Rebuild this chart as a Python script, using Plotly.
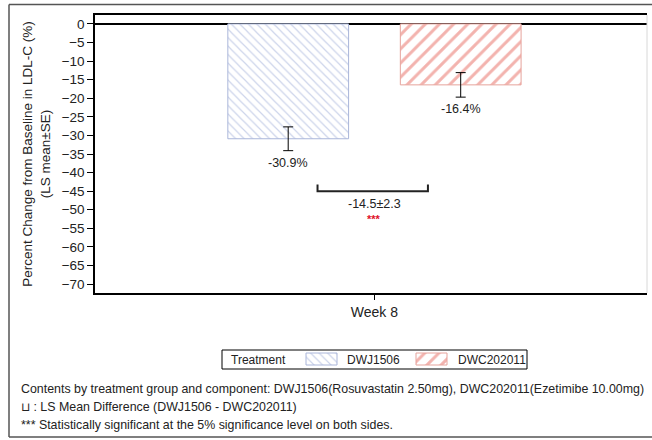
import plotly.graph_objects as go

# LS mean percent change from baseline in LDL-C at Week 8
treatments = ["DWJ1506", "DWC202011"]
ls_means = [-30.9, -16.4]
std_errors = [3.2, 3.3]
bar_labels = ["-30.9%", "-16.4%"]
visit_label = "Week 8"
diff_label = "-14.5±2.3"
diff_level = -45
y_ticks = [0, -5, -10, -15, -20, -25, -30, -35, -40, -45, -50, -55, -60, -65, -70]
legend_title = "Treatment"

footnotes = [
    "Contents by treatment group and component: DWJ1506(Rosuvastatin 2.50mg), DWC202011(Ezetimibe 10.00mg)",
    "⊔ : LS Mean Difference (DWJ1506 - DWC202011)",
    "*** Statistically significant at the 5% significance level on both sides.",
]

W, H = 652, 440
FONT = "Liberation Sans, Arial, sans-serif"
TXT = "#222"


def px(x):
    return x / W


def py(y):
    return 1 - y / H


bar_x = [-0.5, 0.5]
styles = [
    dict(shape="\\", fg="#9aa9d6", line="#aab6da", size=6, solidity=0.2),
    dict(shape="/", fg="#e8685e", line="#e6a39c", size=10, solidity=0.3),
]


def marker_for(st):
    return dict(
        color="white",
        line=dict(color=st["line"], width=1),
        pattern=dict(shape=st["shape"], fgcolor=st["fg"], bgcolor="white",
                     size=st["size"], solidity=st["solidity"]),
    )


fig = go.Figure()
for name, x, m, se, st in zip(treatments, bar_x, ls_means, std_errors, styles):
    fig.add_trace(go.Bar(
        name=name, x=[x], y=[m], width=0.7, marker=marker_for(st),
        error_y=dict(type="data", array=[se], arrayminus=[se], symmetric=False,
                     color="black", thickness=1, width=5),
        hoverinfo="skip", showlegend=False,
    ))

# value labels beneath each error bar
for x, m, se, lab in zip(bar_x, ls_means, std_errors, bar_labels):
    fig.add_annotation(x=x, y=m - se, text=lab, showarrow=False, yanchor="top",
                       yshift=-3, font=dict(family=FONT, size=12.5, color=TXT))

# difference bracket
fig.add_shape(type="path", xref="x", yref="y",
              path=f"M -0.33,{diff_level + 1.8} L -0.33,{diff_level} L 0.31,{diff_level} L 0.31,{diff_level + 1.8}",
              line=dict(color="#222", width=2))
fig.add_annotation(x=0, y=diff_level, text=diff_label, showarrow=False, yanchor="top",
                   yshift=-4, font=dict(family=FONT, size=12.5, color=TXT))
fig.add_annotation(x=0, y=diff_level, text="<b>***</b>", showarrow=False, yanchor="top",
                   yshift=-20, font=dict(family=FONT, size=11, color="#e0102a"))

# legend drawn on a full-canvas pixel axis
leg_swatches = [(306, 337), (416, 447)]
leg_text_x = [345, 456]
for name, (x0, x1), st in zip(treatments, leg_swatches, styles):
    fig.add_trace(go.Bar(
        x=[(x0 + x1) / 2], y=[12], base=[353], width=x1 - x0,
        xaxis="x2", yaxis="y2", marker=marker_for(st),
        hoverinfo="skip", showlegend=False,
    ))
fig.add_shape(type="rect", xref="paper", yref="paper",
              x0=px(222), x1=px(527), y0=py(369), y1=py(350),
              line=dict(color="black", width=1))
for txt, x in zip([legend_title] + treatments, [229] + leg_text_x):
    fig.add_annotation(xref="paper", yref="paper", x=px(x), y=py(359.5),
                       xanchor="left", yanchor="middle", text=txt, showarrow=False,
                       font=dict(family=FONT, size=12, color=TXT))

# right border of the plot area (light)
fig.add_shape(type="line", xref="paper", yref="paper", x0=px(647), x1=px(647),
              y0=py(293), y1=py(15), line=dict(color="#d8d8d8", width=1))
# outer frame: top, left and bottom edges
for (x0, y0, x1, y1) in [(9, 4.5, W, 4.5), (9, 4.5, 9, 437), (9, 437, W, 437)]:
    fig.add_shape(type="line", xref="paper", yref="paper",
                  x0=px(x0), x1=px(x1), y0=py(y0), y1=py(y1),
                  line=dict(color="#555", width=1.5), layer="below")

# footnotes
for i, txt in enumerate(footnotes):
    fig.add_annotation(xref="paper", yref="paper", x=px(19), y=py(389 + 18 * i),
                       xanchor="left", yanchor="middle", text=txt, showarrow=False,
                       align="left", font=dict(family=FONT, size=12.4, color=TXT))

fig.update_layout(
    width=W, height=H,
    margin=dict(l=0, r=0, t=0, b=0),
    paper_bgcolor="white", plot_bgcolor="rgba(0,0,0,0)",
    font=dict(family=FONT, size=12, color=TXT),
    barmode="overlay",
    showlegend=False,
    xaxis=dict(
        domain=[px(95), px(647)],
        range=[-1.62, 1.58], tickvals=[0], ticktext=[visit_label],
        ticks="outside", ticklen=5, tickcolor="black",
        showline=True, linecolor="black", linewidth=1.5, mirror=True,
        showgrid=False, zeroline=False, fixedrange=True,
        tickfont=dict(family=FONT, size=14),
    ),
    yaxis=dict(
        domain=[py(293), py(15)],
        range=[-72.4, 2.4], tickvals=y_ticks, ticks="outside", ticklen=6,
        tickcolor="black", showline=True, linecolor="black", linewidth=1.5,
        showgrid=False, zeroline=True, zerolinecolor="black", zerolinewidth=1.5,
        tickfont=dict(family=FONT, size=13.5),
        title=dict(text="Percent Change from Baseline in LDL-C (%)<br>(LS mean±SE)",
                   font=dict(family=FONT, size=13.5), standoff=8),
    ),
    xaxis2=dict(domain=[0, 1], range=[0, W], visible=False, fixedrange=True),
    yaxis2=dict(domain=[0, 1], range=[H, 0], visible=False, fixedrange=True,
                anchor="x2"),
)
fig.data[2].update(xaxis="x2", yaxis="y2")
fig.data[3].update(xaxis="x2", yaxis="y2")

fig.write_html("out.html")
